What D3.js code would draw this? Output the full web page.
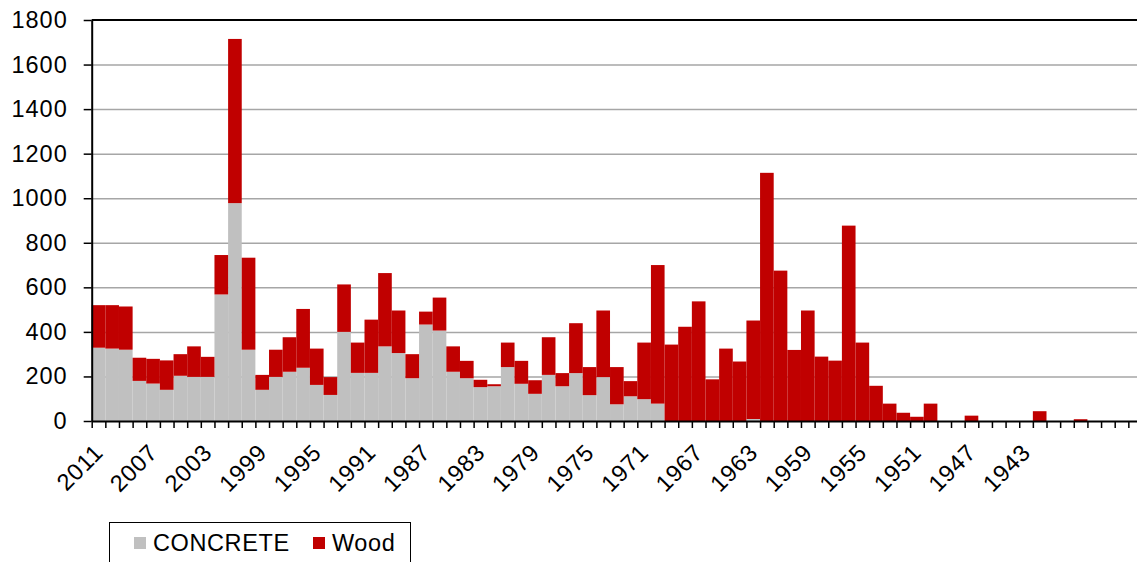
<!DOCTYPE html>
<html>
<head>
<meta charset="utf-8">
<script src="https://cdnjs.cloudflare.com/ajax/libs/d3/7.8.5/d3.min.js"></script>
<style>
  body { margin: 0; background: #fff; }
  svg { display: block; font-family: "Liberation Sans", Arial, sans-serif; }
</style>
</head>
<body>
<div id="chart"></div>
<script>
// categories (build year), newest first
var years = [2011, 2010, 2009, 2008, 2007, 2006, 2005, 2004, 2003, 2002,
  2001, 2000, 1999, 1998, 1997, 1996, 1995, 1994, 1993, 1992,
  1991, 1990, 1989, 1988, 1987, 1986, 1985, 1984, 1983, 1982,
  1981, 1980, 1979, 1978, 1977, 1976, 1975, 1974, 1973, 1972,
  1971, 1970, 1969, 1968, 1967, 1966, 1965, 1964, 1963, 1962,
  1961, 1960, 1959, 1958, 1957, 1956, 1955, 1954, 1953, 1952,
  1951, 1950, 1949, 1948, 1947, 1946, 1945, 1944, 1943, 1942,
  1941, 1940, 1939, 1938, 1937, 1936, 1935];

var concrete = [329, 325, 320, 180, 168, 140, 203, 198, 198, 568,
  978, 320, 140, 198, 221, 239, 162, 117, 400, 216,
  216, 335, 305, 192, 433, 406, 221, 192, 152, 156,
  242, 167, 122, 207, 156, 215, 116, 197, 75, 111,
  98, 78, 0, 0, 0, 0, 0, 0, 9, 0,
  0, 0, 0, 0, 0, 0, 0, 0, 0, 0,
  0, 0, 0, 0, 0, 0, 0, 0, 0, 0,
  0, 0, 0, 0, 0, 0, 0];

var wood = [191, 195, 194, 104, 111, 132, 97, 137, 90, 177,
  737, 413, 67, 122, 155, 264, 163, 80, 213, 136,
  239, 329, 191, 108, 58, 148, 114, 78, 33, 9,
  110, 103, 61, 169, 59, 224, 126, 299, 167, 68,
  254, 622, 343, 423, 537, 187, 325, 267, 442, 1114,
  675, 319, 496, 289, 271, 877, 352, 158, 78, 37,
  19, 78, 0, 0, 24, 0, 0, 0, 0, 44,
  0, 0, 8, 0, 0, 0, 0];

var tickLabels = [2011, 2007, 2003, 1999, 1995, 1991, 1987, 1983, 1979,
  1975, 1971, 1967, 1963, 1959, 1955, 1951, 1947, 1943];
var yTicks = [0, 200, 400, 600, 800, 1000, 1200, 1400, 1600, 1800];

var seriesNames = ["CONCRETE", "Wood"];
var color = ["#c0c0c0", "#c00000"];

var W = 1137, H = 562;
var plotLeft = 91.7, plotTop = 20, plotBottom = 421, barStep = 13.64;
var plotRight = plotLeft + barStep * years.length;
var fontSize = "23.5px";

var data = years.map(function (yr, i) {
  return { year: yr, CONCRETE: concrete[i], Wood: wood[i] };
});

var x = d3.scaleBand()
  .domain(years)
  .range([plotLeft, plotRight])
  .padding(0);
var xEdge = d3.scaleLinear()
  .domain([0, years.length])
  .range([plotLeft, plotRight]);
var y = d3.scaleLinear()
  .domain([0, 1800])
  .range([plotBottom, plotTop]);

var svg = d3.select("#chart").append("svg")
  .attr("width", W)
  .attr("height", H);

// grid lines
var grid = svg.append("g")
  .attr("transform", "translate(" + plotLeft + ",0)")
  .call(d3.axisLeft(y).tickValues(yTicks.slice(1, -1)).tickSize(-(plotRight - plotLeft)).tickFormat(""));
grid.select(".domain").remove();
grid.selectAll(".tick line").attr("stroke", "#a6a6a6").attr("stroke-width", 1.5);

// bars
var stacked = d3.stack().keys(seriesNames)(data);
svg.append("g")
  .selectAll("g")
  .data(stacked)
  .enter()
  .append("g")
  .attr("fill", function (d, i) { return color[i]; })
  .selectAll("rect")
  .data(function (d) { return d; })
  .enter()
  .append("rect")
  .attr("x", function (d) { return x(d.data.year); })
  .attr("width", x.bandwidth())
  .attr("y", function (d) { return y(d[1]); })
  .attr("height", function (d) { return y(d[0]) - y(d[1]); });

// plot border top
svg.append("line")
  .attr("x1", plotLeft).attr("x2", plotRight)
  .attr("y1", y(1800)).attr("y2", y(1800))
  .attr("stroke", "#000").attr("stroke-width", 2);

// y axis
var yAxis = svg.append("g")
  .attr("transform", "translate(" + plotLeft + ",0)")
  .call(d3.axisLeft(y).tickValues(yTicks).tickSize(8).tickPadding(16).tickSizeOuter(0).tickFormat(d3.format("d")));
yAxis.select(".domain").attr("stroke", "#000").attr("stroke-width", 2);
yAxis.selectAll(".tick line").attr("stroke", "#000").attr("stroke-width", 1.5);
yAxis.selectAll(".tick text")
  .attr("fill", "#000")
  .style("font-size", fontSize)
  .style("letter-spacing", "1px");

// x axis: tick marks on category edges
var xTicks = svg.append("g")
  .attr("transform", "translate(0," + plotBottom + ")")
  .call(d3.axisBottom(xEdge).tickValues(d3.range(years.length + 1)).tickSize(7).tickSizeOuter(0).tickFormat(""));
xTicks.select(".domain").attr("stroke", "#000").attr("stroke-width", 2);
xTicks.selectAll(".tick line").attr("stroke", "#000").attr("stroke-width", 1.5);

// x axis labels
var xLabels = svg.append("g")
  .attr("transform", "translate(0," + plotBottom + ")")
  .call(d3.axisBottom(x).tickValues(tickLabels).tickSize(0));
xLabels.select(".domain").remove();
xLabels.selectAll(".tick text")
  .attr("fill", "#000")
  .attr("text-anchor", "end")
  .attr("dy", null)
  .attr("y", null)
  .attr("transform", "translate(6,33) rotate(-45)")
  .style("font-size", fontSize)
  .style("letter-spacing", "0.8px");

// legend
var legend = svg.append("g");
legend.append("rect")
  .attr("x", 109.5).attr("y", 522.5)
  .attr("width", 301).attr("height", 60)
  .attr("fill", "#fff").attr("stroke", "#000").attr("stroke-width", 1);
var legendX = [134, 313];
seriesNames.forEach(function (name, i) {
  legend.append("rect")
    .attr("x", legendX[i]).attr("y", 537)
    .attr("width", 12).attr("height", 12)
    .attr("fill", color[i]);
  legend.append("text")
    .attr("x", legendX[i] + 19).attr("y", 551)
    .style("font-size", fontSize)
    .style("letter-spacing", "0.6px")
    .text(name);
});
</script>
</body>
</html>
